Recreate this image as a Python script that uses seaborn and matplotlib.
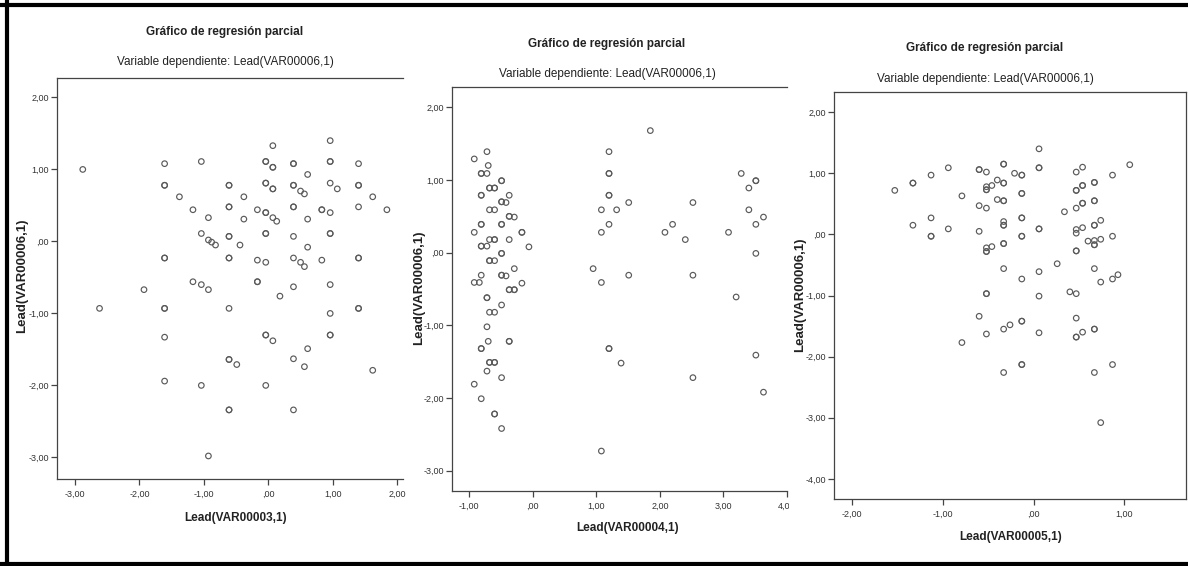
import numpy as np
import pandas as pd
import matplotlib
matplotlib.use("Agg")
import matplotlib.pyplot as plt
from matplotlib.lines import Line2D
from matplotlib.patches import Rectangle
import seaborn as sns

# ---------------- data ----------------
titles = ["Gráfico de regresión parcial"] * 3
subtitle = "Variable dependiente: Lead(VAR00006,1)"
ylabel = "Lead(VAR00006,1)"
xlabels = ["Lead(VAR00003,1)", "Lead(VAR00004,1)", "Lead(VAR00005,1)"]

# panel 1 : x, y, count (count 2 = overlapping observations)
x1 = [-2.88, -2.62, -1.93, -1.61, -1.61, -1.61, -1.61, -1.61, -1.61, -1.38, -1.17, -1.17,
      -1.04, -1.04, -1.04, -1.04, -0.93, -0.93, -0.88, -0.82, -0.93, -0.93, -0.61, -0.61,
      -0.61, -0.61, -0.61, -0.61, -0.49, -0.61, -0.38, -0.38, -0.44, -0.17, -0.17, -0.17,
      -0.04, -0.04, -0.04, -0.04, -0.04, -0.04, -0.04, 0.07, 0.07, 0.07, 0.07, 0.13,
      0.07, 0.18, 0.39, 0.39, 0.39, 0.39, 0.39, 0.39, 0.39, 0.39, 0.50, 0.56, 0.50, 0.56,
      0.61, 0.61, 0.61, 0.61, 0.56, 0.83, 0.83, 0.96, 0.96, 0.96, 1.07, 0.96, 0.96, 0.96,
      0.96, 0.96, 1.40, 1.40, 1.40, 1.40, 1.40, 1.62, 1.62, 1.84]
y1 = [1.00, -0.93, -0.67, 1.08, 0.78, -0.23, -0.93, -1.33, -1.94, 0.62, 0.44, -0.56,
      1.11, 0.11, -0.60, -2.00, 0.33, 0.02, -0.01, -0.05, -0.67, -2.98, 0.78, 0.48,
      0.07, -0.23, -0.93, -1.64, -1.71, -2.34, 0.62, 0.31, -0.05, 0.44, -0.26, -0.56,
      1.11, 0.81, 0.40, 0.11, -0.29, -1.30, -2.00, 1.33, 1.03, 0.73, 0.33, 0.28,
      -1.38, -0.76, 1.08, 0.78, 0.48, 0.07, -0.23, -0.63, -1.63, -2.34, 0.70, 0.66, -0.29, -0.35,
      0.93, 0.31, -0.08, -1.49, -1.74, 0.44, -0.26, 1.40, 1.11, 0.81, 0.73, 0.40, 0.11, -0.60,
      -1.00, -1.30, 1.08, 0.78, 0.48, -0.23, -0.93, 0.62, -1.79, 0.44]
n1 = [1, 1, 1, 1, 2, 2, 2, 1, 1, 1, 1, 1,
      1, 1, 1, 1, 1, 1, 1, 1, 1, 1, 2, 2,
      2, 2, 1, 2, 1, 2, 1, 1, 1, 1, 1, 2,
      2, 2, 2, 2, 1, 2, 1, 1, 2, 2, 1, 1,
      1, 1, 2, 2, 2, 1, 1, 1, 1, 1, 1, 1, 1, 1,
      1, 1, 1, 1, 1, 2, 1, 1, 2, 1, 1, 1, 2, 1,
      1, 2, 1, 2, 1, 2, 2, 1, 1, 1]

# panel 2
x2 = [-0.92, -0.72, -0.70, -0.81, -0.72, -0.81, -0.68, -0.60, -0.49, -0.68, -0.60, -0.49,
      -0.42, -0.37, -0.92, -0.81, -0.49, -0.37, -0.29, -0.17, -0.81, -0.72, -0.68, -0.60,
      -0.37, -0.06, -0.68, -0.60, -0.49, -0.92, -0.84, -0.81, -0.49, -0.42, -0.29, -0.37,
      -0.29, -0.17, -0.72, -0.68, -0.60, -0.49, -0.72, -0.70, -0.81, -0.37, -0.68, -0.60,
      -0.72, -0.49, -0.92, -0.81, -0.60, -0.49,
      0.95, 1.08, 1.08, 1.08, 1.08, 1.20, 1.20, 1.20, 1.20, 1.20, 1.32, 1.39, 1.51, 1.51,
      1.85, 2.08, 2.20, 2.40, 2.52, 2.52, 2.52,
      3.08, 3.20, 3.28, 3.40, 3.51, 3.40, 3.51, 3.63, 3.51, 3.51, 3.63]
y2 = [1.29, 1.39, 1.20, 1.09, 1.09, 0.79, 0.89, 0.89, 0.99, 0.59, 0.59, 0.70,
      0.69, 0.79, 0.28, 0.39, 0.39, 0.50, 0.49, 0.28, 0.09, 0.09, 0.18, 0.18,
      0.18, 0.08, -0.11, -0.11, -0.01, -0.41, -0.41, -0.31, -0.31, -0.32, -0.22, -0.51,
      -0.51, -0.42, -0.62, -0.82, -0.82, -0.72, -1.02, -1.22, -1.32, -1.22, -1.51, -1.51,
      -1.63, -1.72, -1.81, -2.01, -2.22, -2.42,
      -0.22, 0.59, 0.28, -0.41, -2.73, 1.39, 1.09, 0.79, 0.39, -1.32, 0.59, -1.52, 0.69, -0.31,
      1.68, 0.28, 0.39, 0.18, 0.69, -0.31, -1.72,
      0.28, -0.61, 1.09, 0.89, 0.99, 0.59, 0.39, 0.49, -0.01, -1.41, -1.92]
n2 = [1, 1, 1, 2, 1, 2, 2, 2, 2, 1, 1, 2,
      1, 1, 1, 2, 2, 2, 1, 2, 2, 1, 1, 2,
      1, 1, 2, 1, 2, 1, 1, 1, 2, 1, 1, 2,
      2, 1, 2, 1, 1, 1, 1, 1, 2, 2, 2, 2,
      1, 1, 1, 1, 2, 1,
      1, 1, 1, 1, 1, 1, 2, 2, 1, 2, 1, 1, 1, 1,
      1, 1, 1, 1, 1, 1, 1,
      1, 1, 1, 1, 2, 1, 1, 1, 1, 1, 1]

# panel 3
x3 = [-1.53, -1.33, -1.33, -1.13, -1.13, -1.13, -0.94, -0.94, -0.79, -0.79, -0.60, -0.52,
      -0.60, -0.52, -0.60, -0.52, -0.52, -0.46, -0.40, -0.40, -0.52, -0.52, -0.46, -0.60,
      -0.52, -0.52, -0.33, -0.33, -0.33, -0.33, -0.33, -0.33, -0.33, -0.33, -0.26, -0.33,
      -0.21, -0.13, -0.13, -0.13, -0.13, -0.13, -0.13, -0.13, 0.06, 0.06, 0.06, 0.06,
      0.06, 0.06, 0.26, 0.34, 0.40, 0.47, 0.54, 0.47, 0.54, 0.47, 0.54, 0.47, 0.47, 0.54,
      0.47, 0.47, 0.47, 0.47, 0.54, 0.60, 0.67, 0.67, 0.67, 0.67, 0.67, 0.74, 0.74, 0.67,
      0.74, 0.67, 0.67, 0.74, 0.87, 0.87, 0.87, 0.93, 0.87, 1.06]
y3 = [0.72, 0.84, 0.15, 0.97, 0.27, -0.03, 1.09, 0.09, 0.63, -1.77, 1.06, 1.02,
      0.47, 0.43, 0.05, 0.78, 0.73, 0.80, 0.89, 0.57, -0.22, -0.28, -0.20, -1.34,
      -0.97, -1.63, 1.15, 0.84, 0.55, 0.21, 0.15, -0.15, -0.56, -1.55, -1.48, -2.26,
      1.00, 0.97, 0.67, 0.27, -0.03, -0.73, -1.42, -2.13, 1.40, 1.09, 0.09, -0.61,
      -1.01, -1.61, -0.48, 0.37, -0.94, 1.02, 1.10, 0.72, 0.80, 0.43, 0.51, 0.08, 0.02, 0.11,
      -0.27, -0.97, -1.37, -1.68, -1.60, -0.11, 0.85, 0.55, 0.15, -0.10, -0.17, 0.23, -0.08, -0.56,
      -0.78, -1.55, -2.26, -3.08, 0.97, -0.03, -0.73, -0.66, -2.13, 1.14]
n3 = [1, 2, 1, 1, 1, 2, 1, 1, 1, 1, 2, 1,
      1, 1, 1, 1, 2, 1, 1, 1, 1, 2, 1, 1,
      2, 1, 2, 2, 2, 1, 2, 2, 1, 1, 1, 1,
      1, 2, 2, 2, 2, 1, 2, 2, 1, 2, 2, 1,
      1, 1, 1, 1, 1, 1, 1, 2, 2, 1, 2, 1, 1, 1,
      2, 1, 1, 2, 1, 1, 2, 2, 2, 1, 2, 1, 1, 1,
      1, 2, 1, 1, 1, 1, 1, 1, 1, 1]

xticks = [[-3, -2, -1, 0, 1, 2], [-1, 0, 1, 2, 3, 4], [-2, -1, 0, 1]]
xticklabels = [["-3,00", "-2,00", "-1,00", ",00", "1,00", "2,00"],
               ["-1,00", ",00", "1,00", "2,00", "3,00", "4,00"],
               ["-2,00", "-1,00", ",00", "1,00"]]
yticks = [[-3, -2, -1, 0, 1, 2], [-3, -2, -1, 0, 1, 2], [-4, -3, -2, -1, 0, 1, 2]]
yticklabels = [["-3,00", "-2,00", "-1,00", ",00", "1,00", "2,00"],
               ["-3,00", "-2,00", "-1,00", ",00", "1,00", "2,00"],
               ["-4,00", "-3,00", "-2,00", "-1,00", ",00", "1,00", "2,00"]]

# ---------------- layout ----------------
W, H = 1188, 566
sns.set_theme(style="white")
plt.rcParams['font.family'] = ['Liberation Sans Narrow', 'Liberation Sans', 'DejaVu Sans']

fig = plt.figure(figsize=(W / 100, H / 100), dpi=100)
fig.patch.set_facecolor("white")

def fx(px):
    return px / W

def fy(py):
    return 1 - py / H

boxes = [(57, 403, 78, 479), (452, 787, 87, 491), (834, 1186, 92, 499)]
xlims = [(-3.28, 2.09), (-1.27, 4.0), (-2.2, 1.68)]
ylims = [(-3.30, 2.27), (-3.28, 2.28), (-4.33, 2.33)]
spines_on = [("left", "bottom", "top"), ("left", "bottom", "top"),
             ("left", "bottom", "top", "right")]
title_pos = [(225, 32, 62), (607, 44, 74), (985, 48, 79)]
ylab_pos = [(22, 276), (419, 288), (800, 295)]
xlab_pos = [(236, 518), (628, 528), (1011, 537)]

data = [(x1, y1, n1), (x2, y2, n2), (x3, y3, n3)]
edge = "#5a5a5a"
axes = []
for i in range(3):
    l, r, t, b = boxes[i]
    ax = fig.add_axes([fx(l), fy(b), fx(r) - fx(l), fy(t) - fy(b)])
    xs, ys, ns = data[i]
    df = pd.DataFrame({"x": np.repeat(xs, ns), "y": np.repeat(ys, ns)})
    sns.scatterplot(data=df, x="x", y="y", ax=ax, marker="o", s=16,
                    facecolors="none", edgecolors=edge, linewidths=0.85)
    ax.set_xlim(*xlims[i])
    ax.set_ylim(*ylims[i])
    ax.set_xticks(xticks[i])
    ax.set_xticklabels(xticklabels[i])
    ax.set_yticks(yticks[i])
    ax.set_yticklabels(yticklabels[i])
    ax.set_xlabel("")
    ax.set_ylabel("")
    ax.set_facecolor("white")
    ax.tick_params(axis="both", direction="out", length=4.5, width=0.9, color="#444444",
                   labelsize=6.5, labelcolor="#333333", pad=1.2,
                   bottom=True, left=True, top=False, right=False)
    ax.tick_params(axis="x", pad=3)
    for s in ["left", "bottom", "top", "right"]:
        sp = ax.spines[s]
        if s in spines_on[i]:
            sp.set_visible(True)
            sp.set_color("#444444")
            sp.set_linewidth(0.9)
        else:
            sp.set_visible(False)
    ax.grid(False)
    axes.append(ax)

    tx, ty1, ty2 = title_pos[i]
    fig.text(fx(tx), fy(ty1), titles[i], ha="center", va="center",
             fontsize=8.5, fontweight="bold", color="#222222")
    fig.text(fx(tx), fy(ty2), subtitle, ha="center", va="center",
             fontsize=8.5, color="#222222")
    yx, yy = ylab_pos[i]
    fig.text(fx(yx), fy(yy), ylabel, ha="center", va="center", rotation=90,
             fontsize=9.5, fontweight="bold", color="#222222",
             family=["Liberation Sans", "DejaVu Sans"])
    xx, xy = xlab_pos[i]
    fig.text(fx(xx), fy(xy), xlabels[i], ha="center", va="center",
             fontsize=8.5, fontweight="bold", color="#222222")

axes[2].set_zorder(3)
# the neighbouring panel cuts the last tick label of panel 2
fig.add_artist(Rectangle((fx(789), fy(520)), fx(833) - fx(789), fy(498) - fy(520),
                         transform=fig.transFigure, facecolor="white",
                         edgecolor="none", zorder=2))

# outer frame of the composite image
lw = 3.0
fig.add_artist(Line2D([fx(0), fx(W)], [fy(5), fy(5)], color="black", lw=lw))
fig.add_artist(Line2D([fx(7), fx(7)], [fy(0), fy(H)], color="black", lw=lw))
fig.add_artist(Line2D([fx(0), fx(W)], [fy(564), fy(564)], color="black", lw=lw))

fig.savefig("out.png", dpi=100, facecolor="white")
